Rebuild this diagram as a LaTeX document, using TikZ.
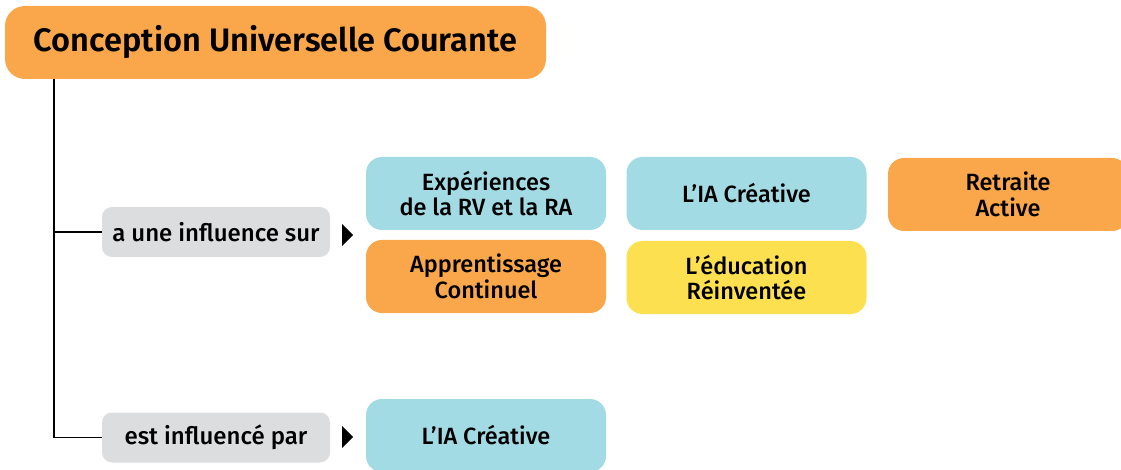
\documentclass[tikz,border=0pt]{standalone}
\usepackage{fontspec}
\setmainfont{Fira Sans}[UprightFont=* Medium, BoldFont=* SemiBold]
\definecolor{corange}{HTML}{F9A74A}
\definecolor{cblue}{HTML}{A3DBE4}
\definecolor{cyellow}{HTML}{FDE04F}
\definecolor{cgray}{HTML}{DCDDDF}
\begin{document}
\begin{tikzpicture}[x=1pt,y=-1pt,
  box/.style={rounded corners=16pt, minimum width=240pt, minimum height=73pt, align=center,
    font=\fontsize{23.5}{25.5}\selectfont, inner sep=0pt},
  lab/.style={fill=cgray, rounded corners=10pt, minimum width=228pt, minimum height=50pt,
    inner sep=0pt, font=\fontsize{24}{28}\selectfont},
  conn/.style={line width=1.1pt, black},
  tip/.style={fill=black}]
\useasboundingbox (0,0) rectangle (1121,470);
\clip (0,0) rectangle (1121,470);
\node[box, fill=corange, minimum width=541pt, minimum height=73pt, rounded corners=20pt,
  font=\fontsize{32.5}{36}\selectfont\bfseries] (title) at (275.5,42.5) {Conception Universelle Courante};
\node[lab] (l1) at (216,232) {a une influence sur};
\node[lab] (l2) at (216,437.5) {est influencé par};
\coordinate (top) at (54,79);
\draw[conn] (top) |- (l1.west);
\draw[conn] (top) |- (l2.west);
\coordinate (a1) at (342,235);
\coordinate (a2) at (342,437);
\fill[tip] (a1) ++(0,-11) -- ++(11,11) -- ++(-11,11) -- cycle;
\fill[tip] (a2) ++(0,-11) -- ++(11,11) -- ++(-11,11) -- cycle;
\node[box, fill=cblue] (b1) at (486,193.5) {Expériences\\de la RV et la RA};
\node[box, fill=corange] (b2) at (486,276.5) {Apprentissage\\Continuel};
\node[box, fill=cblue] (b3) at (746.5,193.5) {L’IA Créative};
\node[box, fill=cyellow] (b4) at (746.5,277.5) {L’éducation\\Réinventée};
\node[box, fill=corange] (b5) at (1008,194.5) {Retraite\\Active};
\node[box, fill=cblue] (b6) at (486,435.5) {L’IA Créative};
\end{tikzpicture}
\end{document}
